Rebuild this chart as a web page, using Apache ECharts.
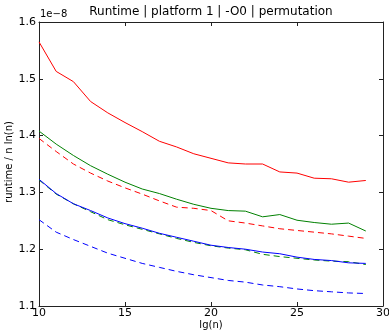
<!DOCTYPE html>
<html>
<head>
<meta charset="utf-8">
<script src="https://cdn.jsdelivr.net/npm/echarts@6/dist/echarts.min.js"></script>
<style>html,body{margin:0;padding:0;background:#fff}#c{width:389px;height:331px}</style>
</head>
<body>
<div id="c"></div>
<script>
const lgN = [10,11,12,13,14,15,16,17,18,19,20,21,22,23,24,25,26,27,28,29];
const redSolid  = [1.565,1.513,1.495,1.460,1.440,1.423,1.407,1.390,1.380,1.368,1.360,1.352,1.350,1.350,1.336,1.334,1.325,1.324,1.318,1.321];
const redDashed = [1.395,1.372,1.350,1.334,1.320,1.308,1.297,1.285,1.274,1.272,1.268,1.250,1.246,1.241,1.236,1.233,1.230,1.227,1.223,1.219];
const greenSolid = [1.408,1.385,1.365,1.347,1.332,1.318,1.306,1.298,1.288,1.279,1.272,1.268,1.267,1.257,1.261,1.251,1.247,1.244,1.246,1.232];
const greenDashed = [1.322,1.297,1.280,1.266,1.252,1.243,1.235,1.227,1.219,1.212,1.206,1.202,1.199,1.191,1.187,1.184,1.181,1.179,1.178,1.173];
const blueSolid = [1.323,1.298,1.280,1.268,1.255,1.245,1.237,1.228,1.221,1.214,1.207,1.203,1.200,1.195,1.192,1.186,1.182,1.180,1.176,1.175];
const blueDashed = [1.252,1.230,1.217,1.205,1.193,1.184,1.175,1.168,1.161,1.155,1.150,1.145,1.142,1.137,1.134,1.130,1.127,1.125,1.123,1.122];
const xTicks = [10,15,20,25,30];
const yTicks = [1.1,1.2,1.3,1.4,1.5,1.6];
const titleText = 'Runtime | platform 1 | -O0 | permutation';
const offsetText = '1e\u22128';
const xName = 'lg(n)';
const yName = 'runtime / n ln(n)';

const FONT = 'DejaVu Sans';
const chart = echarts.init(document.getElementById('c'), null, {renderer:'canvas'});
const pair = arr => lgN.map((x,i)=>[x, arr[i]]);
function line(name, data, color, dashed, z){
  return {name, type:'line', data:pair(data), showSymbol:false, symbol:'none', z:z||2,
    lineStyle:{color, width:1, type: dashed ? [6,4] : 'solid'}, animation:false};
}
const axisBase = {
  axisLine:{show:true, onZero:false, lineStyle:{color:'#222', width:1}},
  axisTick:{show:true, inside:true, length:4, lineStyle:{color:'#222'}},
  splitLine:{show:false}
};
chart.setOption({
  animation:false,
  grid:{left:39, right:6, top:22, bottom:25, containLabel:false, outerBoundsMode:'none'},
  xAxis:[
    Object.assign({}, axisBase, {type:'value', position:'bottom', min:xTicks[0], max:xTicks[xTicks.length-1], interval:5,
      axisLabel:{color:'#000', fontFamily:FONT, fontSize:11, margin:2}}),
    Object.assign({}, axisBase, {type:'value', position:'top', min:xTicks[0], max:xTicks[xTicks.length-1], interval:5,
      axisLabel:{show:false}})
  ],
  yAxis:[
    Object.assign({}, axisBase, {type:'value', position:'left', min:yTicks[0], max:yTicks[yTicks.length-1], interval:0.1,
      axisLabel:{color:'#000', fontFamily:FONT, fontSize:11, margin:3, formatter:v=>v.toFixed(1)}}),
    Object.assign({}, axisBase, {type:'value', position:'right', min:yTicks[0], max:yTicks[yTicks.length-1], interval:0.1,
      axisLabel:{show:false}})
  ],
  graphic:[
    {type:'text', x:211, y:6, style:{text:titleText, fill:'#000', font:'12px "DejaVu Sans"', textAlign:'center', textVerticalAlign:'top'}},
    {type:'text', x:40, y:9, style:{text:offsetText, fill:'#000', font:'10px "DejaVu Sans"'}},
    {type:'text', x:211, y:325, style:{text:xName, fill:'#000', font:'10px "DejaVu Sans"', textAlign:'center', textVerticalAlign:'middle'}},
    {type:'text', x:9, y:162, rotation:Math.PI/2, style:{text:yName, fill:'#000', font:'10px "DejaVu Sans"', textAlign:'center', textVerticalAlign:'middle'}}
  ],
  series:[
    line('red', redSolid, '#ff0000', false),
    line('redD', redDashed, '#ff0000', true),
    line('green', greenSolid, '#008000', false),
    line('greenD', greenDashed, '#008000', true, 2),
    line('blue', blueSolid, '#0000ff', false, 3),
    line('blueD', blueDashed, '#0000ff', true)
  ]
});
</script>
</body>
</html>
